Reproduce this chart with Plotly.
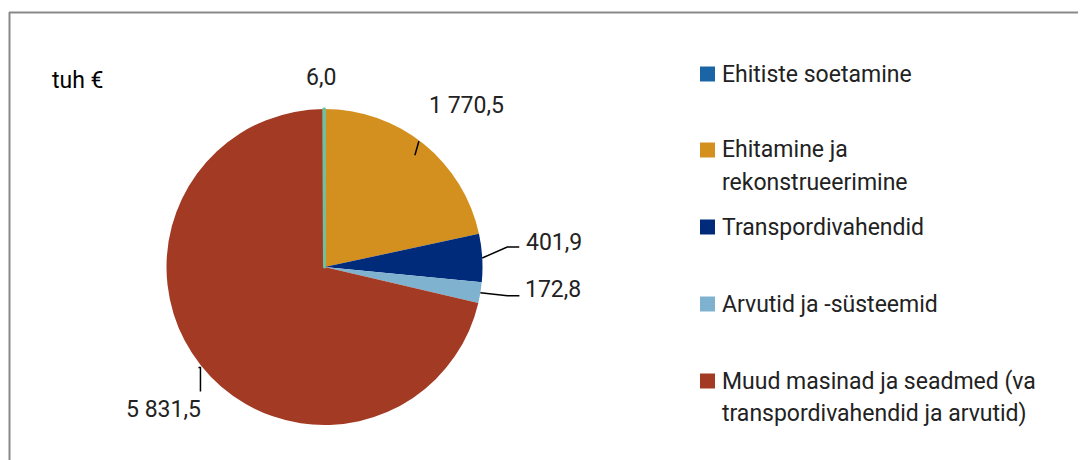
import math
import plotly.graph_objects as go

# ---- data ----
categories = ["Ehitiste soetamine", "Ehitamine ja rekonstrueerimine", "Transpordivahendid",
              "Arvutid ja -süsteemid", "Muud masinad ja seadmed (va transpordivahendid ja arvutid)"]
legend_labels = ["Ehitiste soetamine", "Ehitamine ja<br>rekonstrueerimine", "Transpordivahendid",
                 "Arvutid ja -süsteemid", "Muud masinad ja seadmed (va<br>transpordivahendid ja arvutid)"]
values = [6.0, 1770.5, 401.9, 172.8, 5831.5]
value_labels = ["6,0", "1 770,5", "401,9", "172,8", "5 831,5"]
unit_label = "tuh €"

slice_colors = ["#72BF9B", "#D4901E", "#002A7A", "#7FB2CF", "#A33A24"]
legend_colors = ["#1B65A6", "#D4901E", "#002A7A", "#7FB2CF", "#A33A24"]

# pie drawing order (clockwise from 12 o'clock); smallest slice last so it ends at 12
pie_order = [1, 2, 3, 4, 0]

# ---- layout constants (page pixels) ----
OFF = 8                      # page body margin
W, H = 1086 - OFF, 460 - OFF  # figure size
CX, CY, R = 324.5, 267.0, 158.0
FONT = "Roboto, Open Sans, sans-serif"
TXT = "#222222"


def px(x):
    return (x - OFF) / W


def py(y):
    return 1 - (y - OFF) / H


total = sum(values)

fig = go.Figure()
fig.add_trace(go.Pie(
    values=[values[i] for i in pie_order],
    labels=[categories[i] for i in pie_order],
    sort=False,
    direction="clockwise",
    rotation=0,
    marker=dict(colors=[slice_colors[i] for i in pie_order],
                line=dict(color=[slice_colors[i] for i in pie_order],
                          width=[0, 0, 0, 0, 3])),
    textinfo="none",
    hoverinfo="label+value",
    showlegend=False,
    domain=dict(x=[px(CX - R), px(CX + R)], y=[py(CY + R), py(CY - R)]),
))

# mid-angles of slices (clockwise from 12 o'clock), in legend order
mids = [0.0] * len(values)
acc = 0.0
for i in pie_order:
    ang = values[i] / total * 360.0
    mids[i] = acc + ang / 2
    acc += ang


def edge(theta_deg, rf=1.0):
    t = math.radians(theta_deg)
    return CX + R * rf * math.sin(t), CY - R * rf * math.cos(t)


shapes = []
annotations = []

# label styles: (start radius factor, leader offsets list, text offset from leader end, xanchor)
label_styles = [
    (1.0, [], (-3, -32), "center"),
    (0.91, [(4, -14)], (8, -36), "left"),
    (1.0, [(25, -11), (12, 0)], (5, -4), "left"),
    (1.0, [(27, 3), (12, 0)], (4, -6), "left"),
    (1.02, [(2, 0), (0, 24)], (3, 18), "right"),
]

for i, (rf, segs, toff, xa) in enumerate(label_styles):
    x0, y0 = edge(mids[i], rf)
    pts = [(x0, y0)]
    for dx, dy in segs:
        pts.append((pts[-1][0] + dx, pts[-1][1] + dy))
    if len(pts) > 1:
        path = "M " + " L ".join(f"{px(x):.5f},{py(y):.5f}" for x, y in pts)
        shapes.append(dict(type="path", xref="paper", yref="paper", path=path,
                           line=dict(color="#000000", width=1.5)))
    ex, ey = pts[-1]
    annotations.append(dict(x=px(ex + toff[0]), y=py(ey + toff[1]), xref="paper", yref="paper",
                            text=value_labels[i], showarrow=False, xanchor=xa, yanchor="middle",
                            font=dict(family=FONT, size=23, color=TXT, weight=400)))

# unit label
annotations.append(dict(x=px(50), y=py(80), xref="paper", yref="paper", text=unit_label,
                        showarrow=False, xanchor="left", yanchor="middle",
                        font=dict(family=FONT, size=23, color="#000000", weight=400)))

# custom legend
row_y = [74, 150, 227, 304, 381]
for i, lab in enumerate(legend_labels):
    yc = row_y[i]
    shapes.append(dict(type="rect", xref="paper", yref="paper",
                       x0=px(700), x1=px(715), y0=py(yc + 7.5), y1=py(yc - 7.5),
                       fillcolor=legend_colors[i], line=dict(width=0)))
    for j, line in enumerate(lab.split("<br>")):
        annotations.append(dict(x=px(720), y=py(yc + 32 * j), xref="paper", yref="paper",
                                text=line, showarrow=False, xanchor="left", yanchor="middle",
                                font=dict(family=FONT, size=23, color=TXT, weight=400)))

# frame
shapes.append(dict(type="line", xref="paper", yref="paper", x0=px(9), x1=px(1100),
                   y0=py(12.5), y1=py(12.5), line=dict(color="#898989", width=2)))
shapes.append(dict(type="line", xref="paper", yref="paper", x0=px(9.5), x1=px(9.5),
                   y0=py(12), y1=py(470), line=dict(color="#898989", width=2)))

fig.update_layout(
    width=W, height=H,
    margin=dict(l=0, r=0, t=0, b=0),
    paper_bgcolor="#ffffff",
    plot_bgcolor="#ffffff",
    shapes=shapes,
    annotations=annotations,
    font=dict(family=FONT, color=TXT),
)

fig.write_html("out.html")
